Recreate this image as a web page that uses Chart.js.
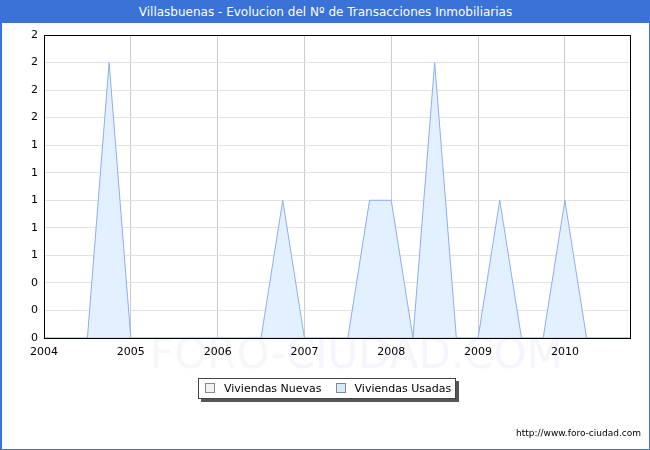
<!DOCTYPE html>
<html>
<head>
<meta charset="utf-8">
<script src="https://cdn.jsdelivr.net/npm/chart.js@4/dist/chart.umd.min.js"></script>
<style>
  html, body { margin: 0; padding: 0; background: #fff; }
  #marco {
    position: relative; width: 650px; height: 450px; box-sizing: border-box;
    border: 1px solid #3a72d8; border-left-width: 2px; overflow: hidden;
    font-family: "DejaVu Sans", Verdana, sans-serif;
  }
  #titulo {
    position: absolute; left: 0; top: 0; right: 0; height: 22px;
    background: #3a72d8; color: #fff; font-size: 12px; line-height: 23px; text-align: center;
  }
  #grafico { position: absolute; left: -2px; top: -1px; }
  #leyenda {
    position: absolute; left: 196px; top: 377px; width: 256px; height: 19px;
    border: 1px solid #444; background: #fff; box-shadow: 3px 3px 0 #555;
    font-size: 11px; line-height: 19px; color: #000; white-space: nowrap;
  }
  #leyenda span.caja {
    display: inline-block; width: 8px; height: 8px; border: 1px solid #888;
    margin: 0 9px 0 6px; vertical-align: -1px;
  }
  #pie {
    position: absolute; right: 8px; top: 427px; font-size: 9px; color: #000;
  }
</style>
</head>
<body>
<div id="marco">
  <div id="titulo">Villasbuenas - Evolucion del Nº de Transacciones Inmobiliarias</div>
  <canvas id="grafico" width="650" height="450"></canvas>
  <div id="leyenda"></div>
  <div id="pie">http://www.foro-ciudad.com</div>
</div>
<script>
// ---- DATOS ----
const anios = [2004, 2005, 2006, 2007, 2008, 2009, 2010];
const trimestres = [
  2004, 2004.25, 2004.5, 2004.75,
  2005, 2005.25, 2005.5, 2005.75,
  2006, 2006.25, 2006.5, 2006.75,
  2007, 2007.25, 2007.5, 2007.75,
  2008, 2008.25, 2008.5, 2008.75,
  2009, 2009.25, 2009.5, 2009.75,
  2010, 2010.25, 2010.5, 2010.75
];
const viviendasNuevas = [
  0, 0, 0, 0,  0, 0, 0, 0,  0, 0, 0, 0,  0, 0, 0, 0,
  0, 0, 0, 0,  0, 0, 0, 0,  0, 0, 0, 0
];
const viviendasUsadas = [
  0, 0, 0, 2,  0, 0, 0, 0,  0, 0, 0, 1,  0, 0, 0, 1,
  1, 0, 2, 0,  0, 1, 0, 0,  1, 0, 0, 0
];
const series = ["Viviendas Nuevas", "Viviendas Usadas"];

const aPuntos = vals => vals.map((v, i) => ({ x: trimestres[i], y: v }));

// ---- ESTILO ----
const COLOR_USADAS = "#8daeea";
const RELLENO_USADAS = "rgba(224,239,255,0.95)";
const COLOR_NUEVAS = "#bbbbbb";

// marca de agua + borde del area
const extras = {
  id: "extras",
  beforeDraw(chart) {
    const ctx = chart.ctx;
    ctx.save();
    ctx.font = "42px 'DejaVu Sans', sans-serif";
    ctx.textBaseline = "alphabetic";
    ctx.fillStyle = "#f7f7f7";
    ctx.fillText("FORO-", 150, 368);
    const w = ctx.measureText("FORO-").width;
    ctx.fillStyle = "#f5f5fd";
    ctx.fillText("CIUDAD.COM", 150 + w, 368);
    ctx.restore();
  },
  afterDatasetsDraw(chart) {
    const a = chart.chartArea, ctx = chart.ctx;
    ctx.save();
    ctx.strokeStyle = "#000";
    ctx.lineWidth = 1;
    ctx.strokeRect(Math.round(a.left) + 0.5, Math.round(a.top) + 0.5,
      Math.round(a.right - a.left), Math.round(a.bottom - a.top));
    ctx.restore();
  }
};

new Chart(document.getElementById("grafico"), {
  type: "line",
  data: {
    datasets: [{
      label: series[0],
      data: aPuntos(viviendasNuevas),
      borderColor: COLOR_NUEVAS,
      backgroundColor: "#f2f2f2",
      borderWidth: 1,
      pointRadius: 0,
      fill: false,
      tension: 0
    }, {
      label: series[1],
      data: aPuntos(viviendasUsadas),
      borderColor: COLOR_USADAS,
      backgroundColor: RELLENO_USADAS,
      borderWidth: 1,
      pointRadius: 0,
      fill: "origin",
      tension: 0
    }]
  },
  options: {
    responsive: false,
    animation: false,
    layout: { padding: { left: 0, top: 35, right: 20, bottom: 92 } },
    plugins: { legend: { display: false }, title: { display: false }, tooltip: { enabled: false } },
    scales: {
      x: {
        type: "linear",
        min: 2004,
        max: 2010.75,
        ticks: {
          color: "#000",
          font: { family: "'DejaVu Sans', sans-serif", size: 11 },
          padding: 8,
          maxRotation: 0,
          autoSkip: false,
          callback: v => String(v)
        },
        afterBuildTicks: s => { s.ticks = anios.map(v => ({ value: v })); },
        afterFit: s => { s.height = 20; },
        grid: { color: "#cccccc", drawTicks: false },
        border: { display: false }
      },
      y: {
        min: 0,
        max: 2.2,
        ticks: {
          stepSize: 0.2,
          color: "#000",
          font: { family: "'DejaVu Sans', sans-serif", size: 11 },
          padding: 6,
          callback: v => String(Math.round(v))
        },
        afterFit: s => { s.width = 44; },
        grid: { color: "#e3e3e3", drawTicks: false },
        border: { display: false }
      }
    }
  },
  plugins: [extras]
});

// ---- LEYENDA ----
const rellenos = ["#f2f2f2", "#d6e8fb"];
document.getElementById("leyenda").innerHTML = series
  .map((s, i) => '<span class="caja" style="background:' + rellenos[i] + '"></span>' + s)
  .join('<span style="display:inline-block;width:8px"></span>');
</script>
</body>
</html>
